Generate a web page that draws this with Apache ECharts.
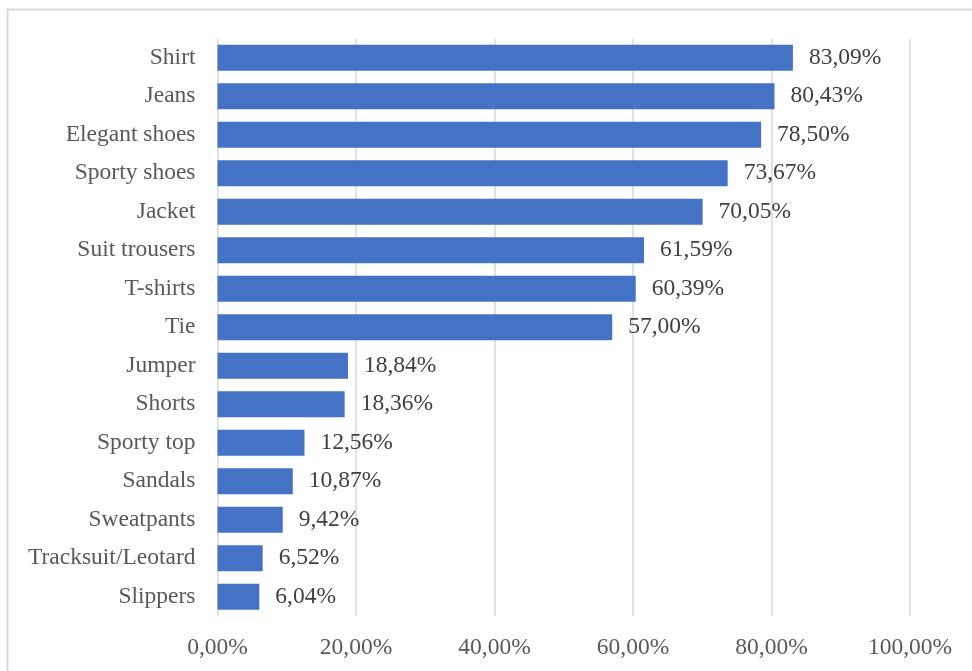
<!DOCTYPE html>
<html>
<head>
<meta charset="utf-8">
<script src="https://cdn.jsdelivr.net/npm/echarts@6/dist/echarts.min.js"></script>
<style>
  html, body { margin: 0; padding: 0; background: #ffffff; }
  #chart { width: 972px; height: 671px; }
</style>
</head>
<body>
<div id="chart"></div>
<script>
// Share of respondents owning each clothing item (%)
const categories = [
  'Shirt', 'Jeans', 'Elegant shoes', 'Sporty shoes', 'Jacket',
  'Suit trousers', 'T-shirts', 'Tie', 'Jumper', 'Shorts',
  'Sporty top', 'Sandals', 'Sweatpants', 'Tracksuit/Leotard', 'Slippers'
];
const shares = [
  83.09, 80.43, 78.50, 73.67, 70.05,
  61.59, 60.39, 57.00, 18.84, 18.36,
  12.56, 10.87, 9.42, 6.52, 6.04
];
const xTicks = [0, 20, 40, 60, 80, 100];

const fmtPct = v => v.toFixed(2).replace('.', ',') + '%';
const FONT = '"Liberation Serif", "Times New Roman", serif';

const chart = echarts.init(document.getElementById('chart'));
chart.setOption({
  backgroundColor: '#ffffff',
  animation: false,
  graphic: [{
    type: 'rect',
    shape: { x: 7.5, y: 9.5, width: 1000, height: 700 },
    style: { fill: 'none', stroke: '#d9d9d9', lineWidth: 2 },
    silent: true
  }],
  grid: { left: 217.5, right: 62, top: 38.5, bottom: 55, containLabel: false },
  xAxis: {
    type: 'value',
    min: xTicks[0],
    max: xTicks[xTicks.length - 1],
    interval: xTicks[1] - xTicks[0],
    axisLine: { show: false },
    axisTick: { show: false },
    splitLine: { show: true, lineStyle: { color: '#d9d9d9', width: 1.5 } },
    axisLabel: {
      formatter: v => fmtPct(v),
      color: '#595959',
      fontFamily: FONT,
      fontSize: 23.5,
      margin: 20
    }
  },
  yAxis: {
    type: 'category',
    data: categories,
    inverse: true,
    axisLine: { show: false },
    axisTick: { show: false },
    splitLine: { show: false },
    axisLabel: {
      color: '#595959',
      fontFamily: FONT,
      fontSize: 23.5,
      margin: 22
    }
  },
  series: [{
    type: 'bar',
    data: shares,
    barWidth: 26,
    itemStyle: { color: '#4472c4' },
    label: {
      show: true,
      position: 'right',
      distance: 16,
      formatter: p => fmtPct(p.value),
      color: '#404040',
      fontFamily: FONT,
      fontSize: 23.5
    }
  }]
});
</script>
</body>
</html>
